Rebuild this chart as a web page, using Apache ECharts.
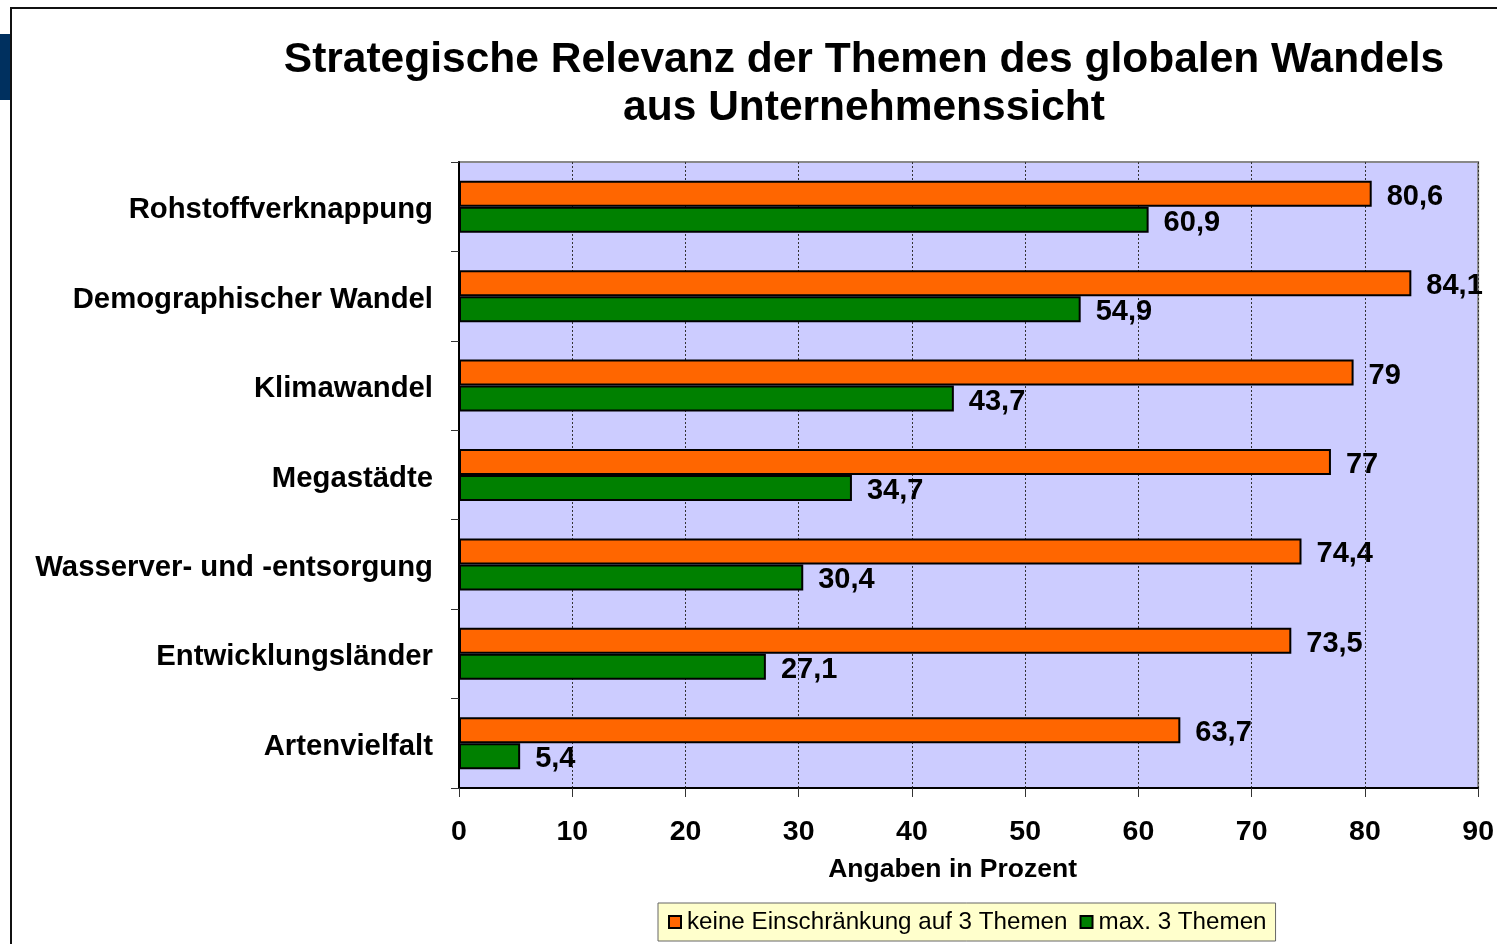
<!DOCTYPE html>
<html>
<head>
<meta charset="utf-8">
<style>
html, body { margin: 0; padding: 0; background: #fff; }
#chart { width: 1497px; height: 944px; }
</style>
<script src="https://cdn.jsdelivr.net/npm/echarts@6/dist/echarts.min.js"></script>
</head>
<body>
<div id="chart"></div>
<script>
var themen = ['Rohstoffverknappung', 'Demographischer Wandel', 'Klimawandel', 'Megastädte',
    'Wasserver- und -entsorgung', 'Entwicklungsländer', 'Artenvielfalt'];
var keineEinschraenkung = [80.6, 84.1, 79, 77, 74.4, 73.5, 63.7];
var maxDrei = [60.9, 54.9, 43.7, 34.7, 30.4, 27.1, 5.4];
var xTicks = [0, 10, 20, 30, 40, 50, 60, 70, 80, 90];

var myChart = echarts.init(document.getElementById('chart'));

function komma(p) {
    return String(p.value).replace('.', ',');
}

var option = {
    backgroundColor: '#fff',
    textStyle: { fontFamily: 'Liberation Sans, Arial, sans-serif' },
    title: {
        text: 'Strategische Relevanz der Themen des globalen Wandels\naus Unternehmenssicht',
        left: 859,
        top: 31,
        textAlign: 'center',
        textStyle: {
            color: '#000',
            fontSize: 42.5,
            fontWeight: 'bold',
            lineHeight: 48
        }
    },
    graphic: [
        { type: 'rect', shape: { x: 0, y: 34, width: 10, height: 66 }, style: { fill: '#00305F' } },
        { type: 'line', shape: { x1: 10, y1: 8, x2: 1497, y2: 8 }, style: { stroke: '#111', lineWidth: 2 } },
        { type: 'line', shape: { x1: 11, y1: 8, x2: 11, y2: 944 }, style: { stroke: '#111', lineWidth: 2 } }
    ],
    legend: {
        left: 658,
        top: 903,
        padding: [7, 9, 7, 10],
        itemGap: 12,
        itemWidth: 12,
        itemHeight: 12,
        backgroundColor: '#FFFFCC',
        borderColor: '#666',
        borderWidth: 1,
        borderRadius: 0,
        textStyle: { fontSize: 24.2, color: '#000', padding: [0, 0, 0, 1] },
        data: [
            { name: 'keine Einschränkung auf 3 Themen', icon: 'rect' },
            { name: 'max. 3 Themen', icon: 'rect' }
        ]
    },
    grid: {
        left: 459,
        right: 18,
        top: 162,
        bottom: 156,
        show: true,
        backgroundColor: '#CCCCFF',
        borderColor: '#888',
        borderWidth: 2
    },
    xAxis: {
        type: 'value',
        min: 0,
        max: 90,
        interval: 10,
        name: 'Angaben in Prozent',
        nameLocation: 'middle',
        nameGap: 68,
        nameTextStyle: { fontSize: 26.5, fontWeight: 'bold', color: '#000', padding: [0, 32, 0, 0] },
        axisLine: { show: true, lineStyle: { color: '#000', width: 2 } },
        axisTick: { show: true, length: 9, lineStyle: { color: '#333' } },
        axisLabel: {
            fontSize: 28.5,
            fontWeight: 'bold',
            color: '#000',
            margin: 30,
            formatter: function (v) { return xTicks.indexOf(v) >= 0 ? String(v) : ''; }
        },
        splitLine: { show: true, lineStyle: { color: '#333', type: [2, 2], width: 1 } }
    },
    yAxis: {
        type: 'category',
        inverse: true,
        data: themen,
        axisLine: { show: true, lineStyle: { color: '#000', width: 2 } },
        axisTick: { show: true, length: 8, inside: false, lineStyle: { color: '#333' } },
        axisLabel: {
            color: '#000',
            margin: 26,
            formatter: function (v) { return '{t|' + v + '}'; },
            rich: {
                t: {
                    fontSize: 29.3,
                    fontWeight: 'bold',
                    color: '#000',
                    padding: [7, 0, 0, 0]
                }
            }
        },
        splitLine: { show: false }
    },
    series: [
        {
            name: 'keine Einschränkung auf 3 Themen',
            type: 'bar',
            data: keineEinschraenkung,
            barWidth: 26,
            barGap: '0%',
            itemStyle: { color: '#FF6600', borderColor: '#000', borderWidth: 2 },
            label: {
                show: true,
                position: 'right',
                distance: 15,
                offset: [0, 3],
                fontSize: 29,
                fontWeight: 'bold',
                color: '#000',
                formatter: komma
            }
        },
        {
            name: 'max. 3 Themen',
            type: 'bar',
            data: maxDrei,
            barWidth: 26,
            barGap: '0%',
            itemStyle: { color: '#008000', borderColor: '#000', borderWidth: 2 },
            label: {
                show: true,
                position: 'right',
                distance: 15,
                offset: [0, 3],
                fontSize: 29,
                fontWeight: 'bold',
                color: '#000',
                formatter: komma
            }
        }
    ]
};
myChart.setOption(option);
</script>
</body>
</html>
